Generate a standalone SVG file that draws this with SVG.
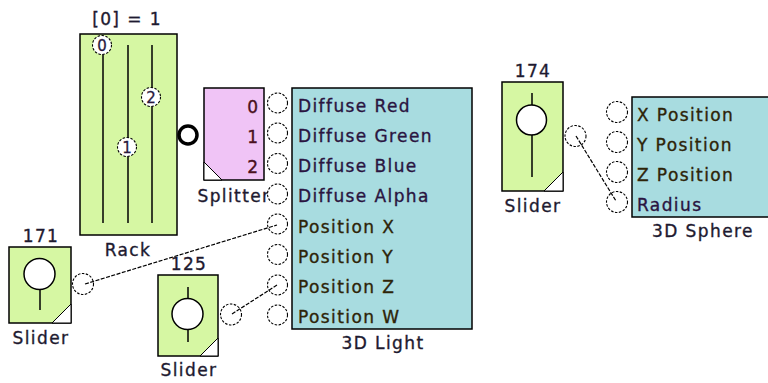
<svg xmlns="http://www.w3.org/2000/svg" width="768" height="383" viewBox="0 0 768 383">
<defs>
<style>
.t{font-family:"DejaVu Sans","Verdana",sans-serif;font-size:17px;letter-spacing:1.4px;fill:#1e1a30;stroke:#1e1a30;stroke-width:0.35}
.c{text-anchor:middle}
.num{font-family:"DejaVu Sans",sans-serif;font-size:17px;fill:#4a1020;stroke:#4a1020;stroke-width:0.35;text-anchor:end}
.kn{font-family:"DejaVu Sans",sans-serif;font-size:15px;fill:#2a1a40;stroke:#2a1a40;stroke-width:0.3;text-anchor:middle}
.green{fill:#d6f7a3;stroke:#000;stroke-width:1.5}
.pink{fill:#f0c4f6;stroke:#000;stroke-width:1.5}
.cyan{fill:#a8dce0;stroke:#000;stroke-width:1.5}
.port{fill:#fff;stroke:#000;stroke-width:1.1;stroke-dasharray:2.5,1.5}
.knob{fill:#fff;stroke:#000;stroke-width:1.5}
.track{stroke:#000;stroke-width:1.5}
.corner{fill:#fff;stroke:#000;stroke-width:1}
.wire{fill:none;stroke:#000;stroke-width:1.2;stroke-dasharray:4,1.5}
.dif{fill:#2a1440;stroke:#2a1440}
.pos{fill:#2e2408;stroke:#2e2408}
</style>
</defs>
<rect width="768" height="383" fill="#fff"/>

<g id="rack">
<text class="t c" x="127" y="25">[0] = 1</text>
<rect class="green" x="80" y="34" width="97" height="201"/>
<line class="track" x1="103" y1="45" x2="103" y2="223"/>
<line class="track" x1="128" y1="45" x2="128" y2="223"/>
<line class="track" x1="152" y1="45" x2="152" y2="223"/>
<circle class="port" cx="102" cy="45" r="9.5"/>
<text class="kn" x="102" y="50.5">0</text>
<circle class="port" cx="127" cy="147" r="9.5"/>
<text class="kn" x="127" y="152.5">1</text>
<circle class="port" cx="151" cy="97" r="9.5"/>
<text class="kn" x="151" y="102.5">2</text>
<circle cx="188" cy="135" r="9" fill="#fff" stroke="#000" stroke-width="3.5"/>
<text class="t c" x="128" y="256">Rack</text>
</g>

<g id="splitter">
<rect class="pink" x="204" y="88" width="60" height="92"/>
<path class="corner" d="M204,162 L222,180 L204,180 Z"/>
<text class="num" x="258" y="113">0</text>
<text class="num" x="258" y="143">1</text>
<text class="num" x="258" y="173">2</text>
<text class="t c" x="234" y="202">Splitter</text>
</g>

<g id="light3d">
<rect class="cyan" x="292" y="88" width="180" height="241"/>
<circle class="port" cx="277.5" cy="103" r="10"/>
<circle class="port" cx="277.5" cy="133" r="10"/>
<circle class="port" cx="277.5" cy="163.5" r="10"/>
<circle class="port" cx="277.5" cy="194" r="10"/>
<circle class="port" cx="277.5" cy="224" r="10"/>
<circle class="port" cx="277.5" cy="254.5" r="10"/>
<circle class="port" cx="277.5" cy="285" r="10"/>
<circle class="port" cx="277.5" cy="315" r="10"/>
<text class="t dif" x="298" y="112">Diffuse Red</text>
<text class="t dif" x="298" y="142">Diffuse Green</text>
<text class="t dif" x="298" y="172">Diffuse Blue</text>
<text class="t dif" x="298" y="202">Diffuse Alpha</text>
<text class="t pos" x="298" y="233">Position X</text>
<text class="t pos" x="298" y="263">Position Y</text>
<text class="t pos" x="298" y="293">Position Z</text>
<text class="t pos" x="298" y="323">Position W</text>
<text class="t c" x="383" y="349">3D Light</text>
</g>

<g id="slider174">
<text class="t c" x="533" y="77">174</text>
<rect class="green" x="502" y="82" width="61" height="109"/>
<line class="track" x1="532" y1="93" x2="532" y2="177"/>
<circle class="knob" cx="531.5" cy="120" r="15"/>
<path class="corner" d="M544,191 L563,172 L563,191 Z"/>
<circle class="port" cx="575.5" cy="136" r="10.5"/>
<text class="t c" x="533" y="212">Slider</text>
</g>

<g id="sphere3d">
<rect class="cyan" x="632" y="97" width="140" height="120"/>
<circle class="port" cx="617" cy="112" r="10.5"/>
<circle class="port" cx="617" cy="142" r="10.5"/>
<circle class="port" cx="617" cy="172" r="10.5"/>
<circle class="port" cx="617" cy="202" r="10.5"/>
<text class="t pos" x="637" y="121">X Position</text>
<text class="t pos" x="637" y="151">Y Position</text>
<text class="t pos" x="637" y="181">Z Position</text>
<text class="t dif" x="637" y="211">Radius</text>
<text class="t c" x="703" y="237">3D Sphere</text>
</g>

<g id="slider171">
<text class="t c" x="41" y="242">171</text>
<rect class="green" x="9" y="247" width="62" height="76"/>
<line class="track" x1="40" y1="289" x2="40" y2="310"/>
<circle class="knob" cx="39.5" cy="274" r="15.5"/>
<path class="corner" d="M52,323 L71,304 L71,323 Z"/>
<circle class="port" cx="83" cy="284" r="10.5"/>
<text class="t c" x="41" y="344">Slider</text>
</g>

<g id="slider125">
<text class="t c" x="189" y="270">125</text>
<rect class="green" x="158" y="275" width="60" height="81"/>
<line class="track" x1="188" y1="287" x2="188" y2="342"/>
<circle class="knob" cx="187.5" cy="314" r="15.5"/>
<path class="corner" d="M200,356 L218,338 L218,356 Z"/>
<circle class="port" cx="231" cy="314.5" r="10.5"/>
<text class="t c" x="189" y="376">Slider</text>
</g>

<g id="connectors">
<line class="wire" x1="85" y1="284" x2="277" y2="225"/>
<line class="wire" x1="232" y1="314" x2="277" y2="285"/>
<line class="wire" x1="576" y1="136" x2="616" y2="201"/>
</g>
</svg>
